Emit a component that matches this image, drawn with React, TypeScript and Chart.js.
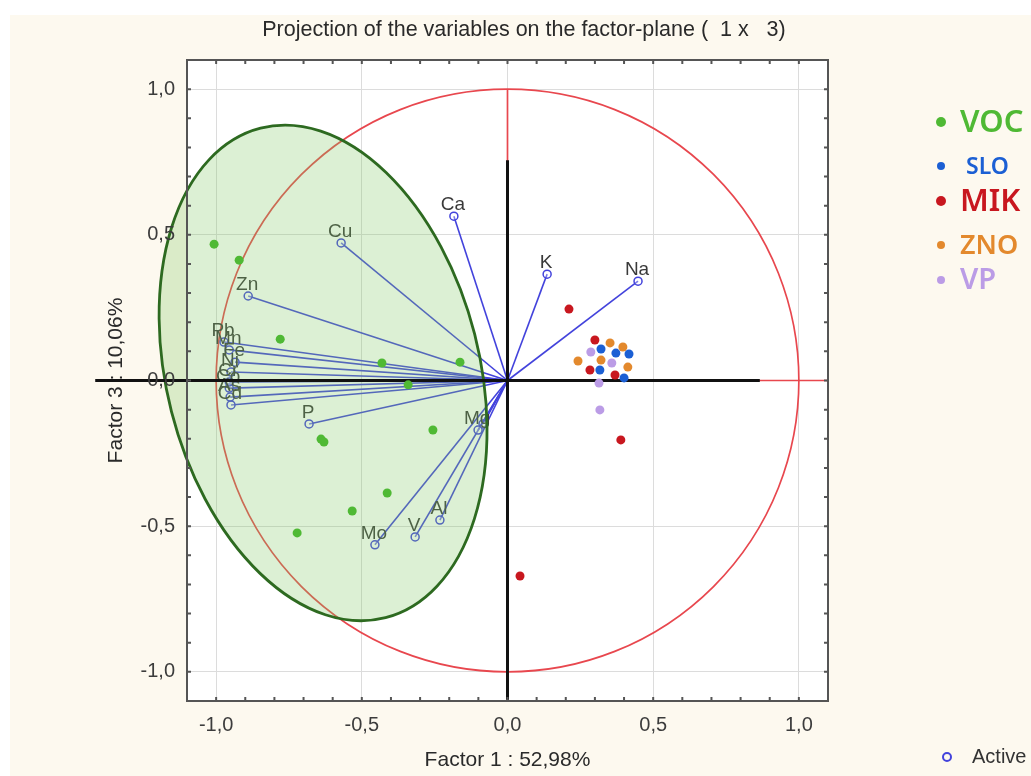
import React, { useEffect, useRef } from "react";
import { Chart, registerables } from "chart.js";

Chart.register(...registerables);

const W = 1031;
const H = 776;

// ---- axis ticks ----
const xTickValues = [-1, -0.5, 0, 0.5, 1];
const xTickLabels = ["-1,0", "-0,5", "0,0", "0,5", "1,0"];
const yTickValues = [-1, -0.5, 0, 0.5, 1];
const yTickLabels = ["-1,0", "-0,5", "0,0", "0,5", "1,0"];
const axisMin = -1.1;
const axisMax = 1.1;

// ---- variables (active) ----
const varNames = ["Ca", "K", "Na", "Cu", "Zn", "Pb", "Mn", "Fe", "Ni", "Cr", "Co", "As", "Cd", "P", "Mg", "", "Al", "V", "Mo"];
const varX = [-0.184, 0.136, 0.448, -0.571, -0.890, -0.973, -0.955, -0.935, -0.949, -0.955, -0.955, -0.952, -0.949, -0.681, -0.101, -0.084, -0.232, -0.317, -0.455];
const varY = [0.564, 0.365, 0.341, 0.472, 0.290, 0.132, 0.105, 0.063, 0.029, -0.005, -0.026, -0.057, -0.084, -0.149, -0.170, -0.149, -0.479, -0.537, -0.564];

// ---- sample groups ----
const vocX = [-1.007, -0.921, -0.780, -0.431, -0.163, -0.341, -0.256, -0.640, -0.630, -0.413, -0.533, -0.722];
const vocY = [0.468, 0.413, 0.142, 0.060, 0.063, -0.015, -0.170, -0.201, -0.211, -0.386, -0.448, -0.523];
const sloX = [0.321, 0.372, 0.417, 0.317, 0.400];
const sloY = [0.108, 0.094, 0.091, 0.036, 0.009];
const mikX = [0.211, 0.300, 0.283, 0.369, 0.389, 0.043];
const mikY = [0.245, 0.139, 0.036, 0.019, -0.204, -0.671];
const znoX = [0.352, 0.396, 0.242, 0.321, 0.413];
const znoY = [0.129, 0.115, 0.067, 0.070, 0.046];
const vpX = [0.286, 0.358, 0.314, 0.317];
const vpY = [0.098, 0.060, -0.009, -0.101];

const groupNames = ["VOC", "SLO", "MIK", "ZNO", "VP"];
const groupColors = ["#4fb934", "#1b5fd4", "#c8171f", "#e3892d", "#bb9ce6"];

// ---- annotations (data units) ----
const ellipseCenter = [-0.633, 0.026];
const ellipseRadii = [0.537, 0.867];
const ellipseRotation = -0.25;
const blackHLine = [-1.415, 0.866];
const blackVLine = [0.756, -1.096];

const FONT = "'Liberation Sans', Arial, sans-serif";
const CREAM = "#fdf9ef";
const VEC = "#4343dc";

function toPts(xs: number[], ys: number[]) {
  return xs.map((x, i) => ({ x, y: ys[i] }));
}

const paperPlugin = {
  id: "paper",
  beforeDraw(chart: any) {
    const ctx = chart.ctx;
    const a = chart.chartArea;
    ctx.save();
    ctx.fillStyle = "#ffffff";
    ctx.fillRect(0, 0, W, H);
    ctx.fillStyle = CREAM;
    ctx.fillRect(10, 15, W - 10, H - 15);
    ctx.fillStyle = "#ffffff";
    ctx.fillRect(a.left, a.top, a.right - a.left, a.bottom - a.top);
    ctx.restore();
  },
  beforeDatasetsDraw(chart: any) {
    const ctx = chart.ctx;
    const xs = chart.scales.x;
    const ys = chart.scales.y;
    const cx = xs.getPixelForValue(0);
    const cy = ys.getPixelForValue(0);
    const r = xs.getPixelForValue(1) - cx;
    ctx.save();
    ctx.strokeStyle = "#e8474e";
    ctx.lineWidth = 1.7;
    ctx.beginPath();
    ctx.arc(cx, cy, r, 0, Math.PI * 2);
    ctx.stroke();
    ctx.beginPath();
    ctx.moveTo(xs.getPixelForValue(axisMin), cy);
    ctx.lineTo(xs.getPixelForValue(axisMax), cy);
    ctx.moveTo(cx, ys.getPixelForValue(1));
    ctx.lineTo(cx, ys.getPixelForValue(axisMin));
    ctx.stroke();
    ctx.restore();
  },
  afterDatasetDraw(chart: any, args: any) {
    if (args.index !== 0) return;
    const ctx = chart.ctx;
    const xs = chart.scales.x;
    const ys = chart.scales.y;
    // variable labels
    ctx.save();
    ctx.font = `19px ${FONT}`;
    ctx.fillStyle = "#3a3a3a";
    ctx.textAlign = "center";
    ctx.textBaseline = "alphabetic";
    varNames.forEach((n, i) => {
      if (!n) return;
      ctx.fillText(n, xs.getPixelForValue(varX[i]) - 1, ys.getPixelForValue(varY[i]) - 6);
    });
    ctx.restore();
    // ellipse
    const ex = xs.getPixelForValue(ellipseCenter[0]);
    const ey = ys.getPixelForValue(ellipseCenter[1]);
    const unit = xs.getPixelForValue(1) - xs.getPixelForValue(0);
    ctx.save();
    ctx.beginPath();
    ctx.ellipse(ex, ey, ellipseRadii[0] * unit, ellipseRadii[1] * unit, ellipseRotation, 0, Math.PI * 2);
    ctx.fillStyle = "rgba(130, 200, 100, 0.28)";
    ctx.fill();
    ctx.strokeStyle = "#2d6a20";
    ctx.lineWidth = 2.8;
    ctx.stroke();
    // black hand-drawn axes
    const oy = ys.getPixelForValue(0);
    const ox = xs.getPixelForValue(0);
    ctx.strokeStyle = "#111111";
    ctx.lineWidth = 3;
    ctx.beginPath();
    ctx.moveTo(xs.getPixelForValue(blackHLine[0]), oy);
    ctx.lineTo(xs.getPixelForValue(blackHLine[1]), oy);
    ctx.moveTo(ox, ys.getPixelForValue(blackVLine[0]));
    ctx.lineTo(ox, ys.getPixelForValue(blackVLine[1]));
    ctx.stroke();
    ctx.restore();
  },
  afterDraw(chart: any) {
    const ctx = chart.ctx;
    const a = chart.chartArea;
    const xs = chart.scales.x;
    const ys = chart.scales.y;
    ctx.save();
    // frame
    ctx.strokeStyle = "#555555";
    ctx.lineWidth = 2;
    ctx.strokeRect(a.left, a.top, a.right - a.left, a.bottom - a.top);
    // minor ticks every 0.1
    ctx.lineWidth = 2;
    ctx.beginPath();
    for (let k = -10; k <= 10; k++) {
      const v = k / 10;
      const px = xs.getPixelForValue(v);
      const py = ys.getPixelForValue(v);
      ctx.moveTo(px, a.bottom);
      ctx.lineTo(px, a.bottom - 4);
      ctx.moveTo(px, a.top);
      ctx.lineTo(px, a.top + 4);
      ctx.moveTo(a.left, py);
      ctx.lineTo(a.left + 4, py);
      ctx.moveTo(a.right, py);
      ctx.lineTo(a.right - 4, py);
    }
    ctx.stroke();
    // tick labels
    ctx.fillStyle = "#3c3c3c";
    ctx.font = `20px ${FONT}`;
    ctx.textAlign = "center";
    ctx.textBaseline = "middle";
    xTickValues.forEach((v, i) => ctx.fillText(xTickLabels[i], xs.getPixelForValue(v), a.bottom + 24));
    ctx.textAlign = "right";
    yTickValues.forEach((v, i) => ctx.fillText(yTickLabels[i], a.left - 12, ys.getPixelForValue(v)));
    // titles
    ctx.fillStyle = "#2a2a2a";
    ctx.textAlign = "center";
    ctx.font = `21.5px ${FONT}`;
    ctx.fillText("Projection of the variables on the factor-plane (  1 x   3)", 524, 30);
    ctx.font = `21px ${FONT}`;
    ctx.fillText("Factor 1 : 52,98%", (a.left + a.right) / 2, 760);
    ctx.save();
    ctx.translate(116, (a.top + a.bottom) / 2);
    ctx.rotate(-Math.PI / 2);
    ctx.fillText("Factor 3 : 10,06%", 0, 0);
    ctx.restore();
    // Active legend
    ctx.strokeStyle = VEC;
    ctx.lineWidth = 2;
    ctx.beginPath();
    ctx.arc(947, 757, 4, 0, Math.PI * 2);
    ctx.stroke();
    ctx.fillStyle = "#333333";
    ctx.textAlign = "left";
    ctx.font = `20px ${FONT}`;
    ctx.fillText("Active", 972, 757);
    // hand-drawn group legend
    const rows = [
      { y: 122, size: 31, dot: 5, tx: 960 },
      { y: 166, size: 23, dot: 4, tx: 966 },
      { y: 201, size: 31, dot: 5, tx: 960 },
      { y: 245, size: 27, dot: 4, tx: 960 },
      { y: 280, size: 29, dot: 4, tx: 960 },
    ];
    rows.forEach((r, i) => {
      ctx.fillStyle = groupColors[i];
      ctx.beginPath();
      ctx.arc(941, r.y, r.dot, 0, Math.PI * 2);
      ctx.fill();
      ctx.font = `600 ${r.size}px 'Noto Sans', sans-serif`;
      ctx.textBaseline = "middle";
      ctx.fillText(groupNames[i], r.tx, r.y + 1);
    });
    ctx.restore();
  },
};

export default function App() {
  const ref = useRef<HTMLCanvasElement | null>(null);
  useEffect(() => {
    if (!ref.current) return;
    const vectorSets = varNames.map((n, i) => ({
      label: n || "var" + i,
      data: [{ x: 0, y: 0 }, { x: varX[i], y: varY[i] }],
      showLine: true,
      borderColor: VEC,
      borderWidth: 1.6,
      pointRadius: [0, 4],
      pointBorderColor: VEC,
      pointBorderWidth: 1.5,
      pointBackgroundColor: "rgba(255,255,255,0.3)",
      order: 2,
    }));
    const groups = [toPts(vocX, vocY), toPts(sloX, sloY), toPts(mikX, mikY), toPts(znoX, znoY), toPts(vpX, vpY)];
    const groupSets = groups.map((g, i) => ({
      label: groupNames[i],
      data: g,
      showLine: false,
      pointRadius: 4.5,
      pointBackgroundColor: groupColors[i],
      pointBorderWidth: 0,
      borderColor: groupColors[i],
      order: 1,
    }));
    const axisOpts = (vals: number[]) => ({
      type: "linear" as const,
      min: axisMin,
      max: axisMax,
      afterBuildTicks: (s: any) => {
        s.ticks = vals.map((v) => ({ value: v }));
      },
      ticks: { display: false },
      grid: { color: "#dcdcdc", lineWidth: 1, drawTicks: false },
      border: { display: false },
    });
    const chart = new Chart(ref.current, {
      type: "scatter",
      data: { datasets: [...vectorSets, ...groupSets] as any },
      options: {
        animation: false,
        responsive: false,
        devicePixelRatio: 1,
        layout: { padding: { left: 187, top: 60, right: 203, bottom: 75 } },
        plugins: { legend: { display: false }, tooltip: { enabled: false } },
        scales: { x: axisOpts(xTickValues), y: axisOpts(yTickValues) } as any,
      },
      plugins: [paperPlugin],
    });
    return () => chart.destroy();
  }, []);
  return (
    <div style={{ position: "absolute", left: 0, top: 0, width: W, height: H }}>
      <canvas ref={ref} width={W} height={H} style={{ display: "block" }} />
    </div>
  );
}
